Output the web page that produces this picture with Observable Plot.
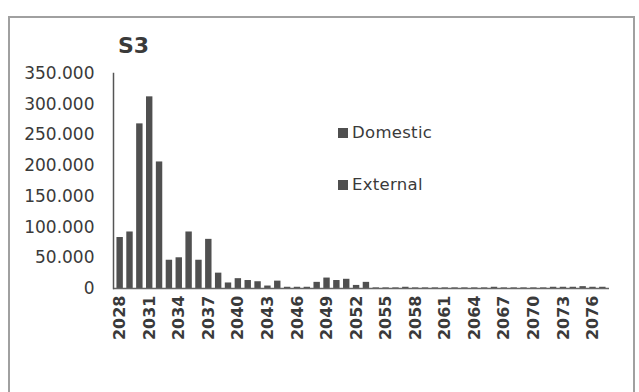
<!DOCTYPE html>
<html>
<head>
<meta charset="utf-8">
<script src="https://cdn.jsdelivr.net/npm/d3@7"></script>
<script src="https://cdn.jsdelivr.net/npm/@observablehq/plot@0.6"></script>
<style>
  html, body { margin: 0; padding: 0; background: #fff; }
  #wrap { position: relative; width: 639px; height: 392px; overflow: hidden; font-family: "DejaVu Sans", sans-serif; }
  #border { position: absolute; left: 8px; top: 16px; width: 627px; height: 400px; border: 2px solid #a0a0a0; box-sizing: border-box; }
  #title { position: absolute; left: 118px; top: 33px; font-size: 22px; font-weight: bold; color: #3a3a3a; }
  .leg { position: absolute; left: 338px; font-size: 16.5px; color: #3a3a3a; letter-spacing: 0.3px; display: flex; align-items: center; }
  .sw { width: 10px; height: 10px; background: #4f4f4f; margin-right: 4px; }
  #plot { position: absolute; left: 0; top: 0; }
</style>
</head>
<body>
<div id="wrap">
  <div id="border"></div>
  <div id="plot"></div>
  <div id="title">S3</div>
  <div class="leg" style="top:123px"><span class="sw"></span>Domestic</div>
  <div class="leg" style="top:175px"><span class="sw"></span>External</div>
</div>
<script>
const years = d3.range(2028, 2078);
// values (totals per year); the scanned greys do not separate the two series
const domestic = [83000, 92000, 268000, 312000, 206000, 46000, 50000, 92000, 46000, 80000,
  25000, 9000, 16000, 13000, 11000, 4000, 12000, 2000, 2000, 2000,
  10000, 17000, 13000, 15000, 5000, 10000, 1000, 1000, 1000, 2000,
  1000, 1000, 1000, 1000, 1000, 1000, 1000, 1000, 2000, 1000,
  1000, 1000, 1000, 1000, 2000, 2000, 2000, 3000, 2000, 2000];
const external = years.map(() => 0);
const seriesNames = ["Domestic", "External"];
const yTicks = [0, 50000, 100000, 150000, 200000, 250000, 300000, 350000];
const xTickYears = years.filter((y, i) => i % 3 === 0);

const rows = [];
years.forEach((y, i) => {
  rows.push({year: y, series: seriesNames[0], value: domestic[i]});
  rows.push({year: y, series: seriesNames[1], value: external[i]});
});

const fmt = d => d === 0 ? "0" : d3.format(",")(d).replace(/,/g, ".");

const chart = Plot.plot({
  width: 639,
  height: 392,
  marginLeft: 113,
  marginRight: 30,
  marginTop: 73,
  marginBottom: 104,
  style: {fontFamily: "DejaVu Sans, sans-serif", background: "transparent", color: "#3a3a3a"},
  x: {domain: years, padding: 0.35, align: 0.5, label: null},
  y: {domain: [0, 350000], label: null},
  color: {domain: seriesNames, range: ["#505050", "#505050"]},
  marks: [
    Plot.barY(rows, Plot.stackY({x: "year", y: "value", fill: "series"})),
    Plot.ruleY([0], {stroke: "#666", strokeWidth: 1.5}),
    Plot.frame({anchor: "left", stroke: "#555", strokeWidth: 1.5}),
    Plot.axisY({ticks: yTicks, tickFormat: fmt, tickSize: 0, tickPadding: 19, fontSize: 17, label: null}),
    Plot.axisX({ticks: xTickYears, tickFormat: d => String(d), tickSize: 0, tickPadding: 7, tickRotate: -90, fontSize: 16, fontWeight: "bold", label: null})
  ]
});
document.getElementById("plot").appendChild(chart);
</script>
</body>
</html>
